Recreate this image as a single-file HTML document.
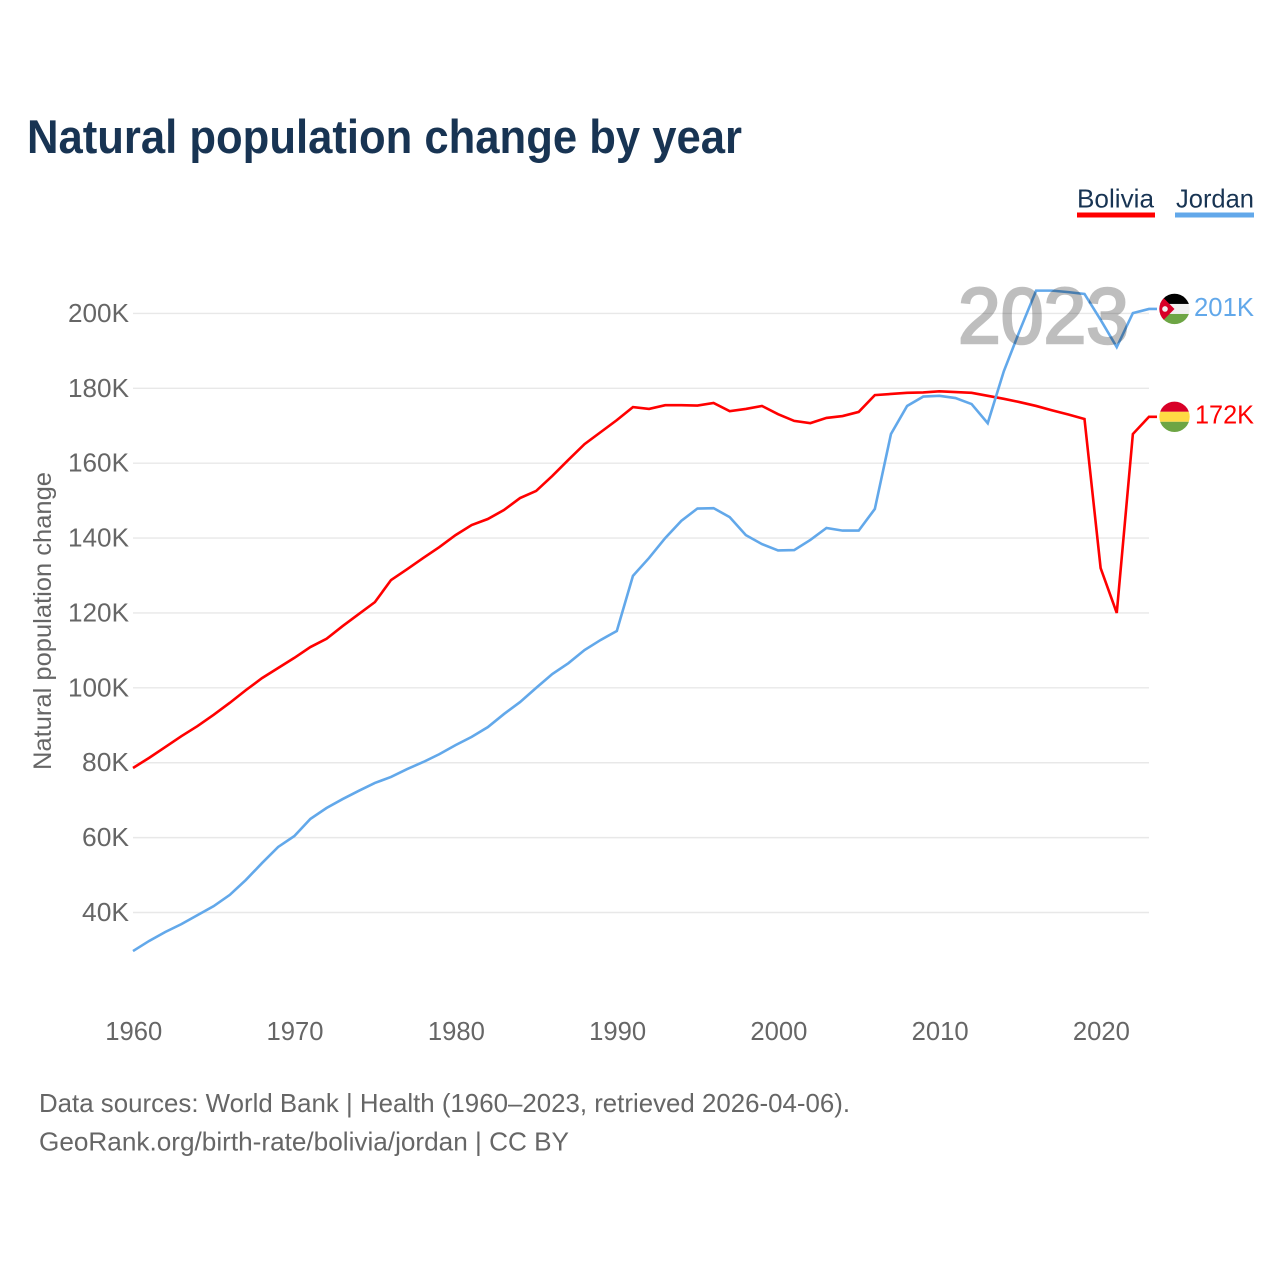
<!DOCTYPE html>
<html lang="en">
<head>
<meta charset="utf-8">
<title>Natural population change by year</title>
<style>
html,body{margin:0;padding:0;background:#fff;width:1280px;height:1280px;overflow:hidden}
svg{display:block;font-family:"Liberation Sans",sans-serif}
</style>
</head>
<body>
<svg id="chart" width="1280" height="1280" viewBox="0 0 1280 1280" xmlns="http://www.w3.org/2000/svg">
  <defs>
    <clipPath id="flag-clip"><circle cx="0" cy="0" r="15.2"></circle></clipPath>
  </defs>
  <rect width="1280" height="1280" fill="#fff"></rect>
  <text x="27" y="153" font-size="47" font-weight="700" fill="#183453" textLength="715" lengthAdjust="spacingAndGlyphs">Natural population change by year</text>

  <g>
    <text x="1077" y="207.5" font-size="26" fill="#183453" textLength="77" lengthAdjust="spacingAndGlyphs">Bolivia</text>
    <rect x="1077" y="212.5" width="78" height="5" fill="#ff0000"></rect>
  </g>
  <g>
    <text x="1176" y="207.5" font-size="26" fill="#183453" textLength="78" lengthAdjust="spacingAndGlyphs">Jordan</text>
    <rect x="1175" y="212.5" width="79" height="5" fill="#62a8ea"></rect>
  </g>

  <g id="grid"></g>
  <g id="y-ticks"></g>
  <g id="x-ticks"></g>
  <text transform="translate(51,621) rotate(-90)" text-anchor="middle" font-size="25" fill="#666" textLength="298" lengthAdjust="spacingAndGlyphs">Natural population change</text>

  <g id="series"></g>
  <text x="958" y="343" font-size="79" fill="#000" stroke="#000" stroke-width="2.6" opacity="0.25" textLength="171" lengthAdjust="spacingAndGlyphs">2023</text>

  <g id="flag-jordan">
    <g clip-path="url(#flag-clip)">
      <rect x="-16" y="-16" width="32" height="11" fill="#000"></rect>
      <rect x="-16" y="-5" width="32" height="10" fill="#f0f0f0"></rect>
      <rect x="-16" y="5" width="32" height="11" fill="#6da544"></rect>
      <polygon points="-16,-16 0,0 -16,16" fill="#d80027"></polygon>
      <circle cx="-9.5" cy="0" r="2.8" fill="#f0f0f0"></circle>
    </g>
  </g>
  <g id="flag-bolivia">
    <g clip-path="url(#flag-clip)">
      <rect x="-16" y="-16" width="32" height="11" fill="#d80027"></rect>
      <rect x="-16" y="-5" width="32" height="10" fill="#ffda44"></rect>
      <rect x="-16" y="5" width="32" height="11" fill="#6da544"></rect>
    </g>
  </g>
  <text id="end-label-jordan" x="1194" font-size="26" fill="#62a8ea" textLength="60" lengthAdjust="spacingAndGlyphs"></text>
  <text id="end-label-bolivia" x="1195" font-size="26" fill="#ff0000" textLength="59" lengthAdjust="spacingAndGlyphs"></text>

  <text x="39" y="1112" font-size="26" fill="#666" textLength="811" lengthAdjust="spacingAndGlyphs">Data sources: World Bank | Health (1960–2023, retrieved 2026-04-06).</text>
  <text x="39" y="1150.5" font-size="26" fill="#666" textLength="530" lengthAdjust="spacingAndGlyphs">GeoRank.org/birth-rate/bolivia/jordan | CC BY</text>
</svg>
<script>
const years = [1960,1961,1962,1963,1964,1965,1966,1967,1968,1969,1970,1971,1972,1973,1974,1975,1976,1977,1978,1979,1980,1981,1982,1983,1984,1985,1986,1987,1988,1989,1990,1991,1992,1993,1994,1995,1996,1997,1998,1999,2000,2001,2002,2003,2004,2005,2006,2007,2008,2009,2010,2011,2012,2013,2014,2015,2016,2017,2018,2019,2020,2021,2022,2023];
const boliviaValues = [78.6,81.3,84.2,87.1,89.8,92.8,96.0,99.4,102.6,105.3,108.0,110.9,113.1,116.5,119.7,122.9,128.8,131.7,134.7,137.6,140.8,143.5,145.1,147.5,150.7,152.6,156.6,160.9,165.1,168.3,171.5,175.0,174.5,175.5,175.5,175.4,176.1,173.9,174.5,175.3,173.1,171.3,170.7,172.1,172.6,173.7,178.2,178.5,178.8,178.9,179.2,179.0,178.8,178.0,177.2,176.3,175.3,174.1,173.0,171.8,132.0,120.0,167.8,172.4];
const jordanValues = [29.7,32.4,34.8,36.9,39.3,41.7,44.7,48.7,53.2,57.5,60.4,65.0,67.9,70.3,72.5,74.6,76.2,78.3,80.2,82.3,84.7,86.9,89.5,93.0,96.2,100.0,103.7,106.6,110.1,112.8,115.2,129.9,134.7,140.0,144.6,147.9,148.0,145.6,140.8,138.4,136.7,136.8,139.5,142.7,142.0,142.0,147.8,167.8,175.3,177.8,178.0,177.4,175.8,170.7,184.6,195.6,206.1,206.1,205.7,205.2,198.3,191.0,200.1,201.2];
const yTicks = [40,60,80,100,120,140,160,180,200];
const xTicks = [1960,1970,1980,1990,2000,2010,2020];

const NS = 'http://www.w3.org/2000/svg';
function xScale(year) { return 133 + (year - 1960) * (1149 - 133) / 63; }
function yScale(value) { return 912.5 - (value - 40) * 3.744; }

const gridGroup = document.getElementById('grid');
const yTickGroup = document.getElementById('y-ticks');
const xTickGroup = document.getElementById('x-ticks');
const seriesGroup = document.getElementById('series');

yTicks.forEach(function (tick) {
  const line = document.createElementNS(NS, 'line');
  
  
  line.setAttribute('x1', xScale(1960));
  line.setAttribute('x2', xScale(2023));
  line.setAttribute('y1', yScale(tick));
  line.setAttribute('y2', yScale(tick));
  line.setAttribute('stroke', '#e8e8e8');
  line.setAttribute('stroke-width', '1.4');
  gridGroup.appendChild(line);

  const label = document.createElementNS(NS, 'text');
  
  
  label.setAttribute('x', 129);
  label.setAttribute('y', yScale(tick) + 8.5);
  label.setAttribute('text-anchor', 'end');
  label.setAttribute('font-size', '25.5');
  label.setAttribute('fill', '#666');
  label.setAttribute('textLength', tick >= 100 ? 61 : 47);
  label.setAttribute('lengthAdjust', 'spacingAndGlyphs');
  label.textContent = tick + 'K';
  yTickGroup.appendChild(label);
});

xTicks.forEach(function (tick) {
  const label = document.createElementNS(NS, 'text');
  
  
  label.setAttribute('x', xScale(tick) + 0.8);
  label.setAttribute('y', 1040);
  label.setAttribute('text-anchor', 'middle');
  label.setAttribute('font-size', '25.5');
  label.setAttribute('fill', '#666');
  label.setAttribute('textLength', 57);
  label.setAttribute('lengthAdjust', 'spacingAndGlyphs');
  label.textContent = tick;
  xTickGroup.appendChild(label);
});

function pointList(values) {
  const pts = values.map(function (v, i) { return xScale(years[i]).toFixed(2) + ',' + yScale(v).toFixed(2); });
  pts.push('1157,' + yScale(values[values.length - 1]).toFixed(2));
  return pts.join(' ');
}

const boliviaLine = document.createElementNS(NS, 'polyline');


boliviaLine.setAttribute('points', pointList(boliviaValues));
boliviaLine.setAttribute('fill', 'none');
boliviaLine.setAttribute('stroke', '#ff0000');
boliviaLine.setAttribute('stroke-width', '2.6');
seriesGroup.appendChild(boliviaLine);

const jordanLine = document.createElementNS(NS, 'polyline');


jordanLine.setAttribute('points', pointList(jordanValues));
jordanLine.setAttribute('fill', 'none');
jordanLine.setAttribute('stroke', '#62a8ea');
jordanLine.setAttribute('stroke-width', '2.6');
seriesGroup.appendChild(jordanLine);

const lastBolivia = boliviaValues[boliviaValues.length - 1];
const lastJordan = jordanValues[jordanValues.length - 1];
document.getElementById('flag-bolivia').setAttribute('transform', 'translate(1174.5,' + yScale(lastBolivia) + ')');
document.getElementById('flag-jordan').setAttribute('transform', 'translate(1174.5,' + yScale(lastJordan) + ')');
const endBolivia = document.getElementById('end-label-bolivia');
endBolivia.setAttribute('y', yScale(lastBolivia) + 6.5);
endBolivia.textContent = Math.round(lastBolivia) + 'K';
const endJordan = document.getElementById('end-label-jordan');
endJordan.setAttribute('y', yScale(lastJordan) + 7);
endJordan.textContent = Math.round(lastJordan) + 'K';
</script>
</body>
</html>
